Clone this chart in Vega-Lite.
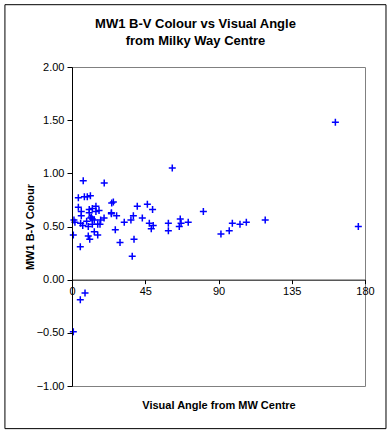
{
  "$schema": "https://vega.github.io/schema/vega-lite/v6.json",
  "width": 293,
  "height": 319,
  "autosize": "none",
  "padding": {"left": 72, "top": 67, "right": 26, "bottom": 48},
  "background": "white",
  "title": {
    "text": ["MW1 B-V Colour vs Visual Angle", "from Milky Way Centre"],
    "font": "Liberation Sans",
    "fontSize": 13,
    "fontWeight": "bold",
    "color": "#000000",
    "lineHeight": 17,
    "anchor": "middle",
    "dx": -23,
    "offset": -44
  },
  "config": {
    "view": {"stroke": "#808080", "strokeWidth": 1},
    "axis": {
      "labelFont": "Liberation Sans",
      "labelFontSize": 11,
      "labelColor": "#000000",
      "titleFont": "Liberation Sans",
      "titleFontSize": 11,
      "titleFontWeight": "bold",
      "titleColor": "#000000",
      "domainColor": "#000000",
      "tickColor": "#000000",
      "grid": false
    }
  },
  "data": {
    "values": [
      {"angle": 0.8, "bv": 0.42},
      {"angle": 1.2, "bv": 0.56},
      {"angle": 1.8, "bv": 0.54},
      {"angle": 3.9, "bv": 0.77},
      {"angle": 3.9, "bv": 0.68},
      {"angle": 5.1, "bv": 0.31},
      {"angle": 5.3, "bv": 0.53},
      {"angle": 5.7, "bv": 0.64},
      {"angle": 5.7, "bv": 0.60},
      {"angle": 6.6, "bv": 0.51},
      {"angle": 6.9, "bv": 0.93},
      {"angle": 7.6, "bv": 0.78},
      {"angle": 9.0, "bv": 0.55},
      {"angle": 9.4, "bv": 0.78},
      {"angle": 10.0, "bv": 0.50},
      {"angle": 10.0, "bv": 0.41},
      {"angle": 10.6, "bv": 0.66},
      {"angle": 10.6, "bv": 0.63},
      {"angle": 10.9, "bv": 0.38},
      {"angle": 11.3, "bv": 0.79},
      {"angle": 11.5, "bv": 0.58},
      {"angle": 11.9, "bv": 0.59},
      {"angle": 12.5, "bv": 0.67},
      {"angle": 12.5, "bv": 0.57},
      {"angle": 12.5, "bv": 0.52},
      {"angle": 13.7, "bv": 0.56},
      {"angle": 13.7, "bv": 0.45},
      {"angle": 14.7, "bv": 0.69},
      {"angle": 14.7, "bv": 0.64},
      {"angle": 15.8, "bv": 0.42},
      {"angle": 15.8, "bv": 0.52},
      {"angle": 16.6, "bv": 0.65},
      {"angle": 17.2, "bv": 0.52},
      {"angle": 17.6, "bv": 0.56},
      {"angle": 19.7, "bv": 0.58},
      {"angle": 19.8, "bv": 0.91},
      {"angle": 24.2, "bv": 0.63},
      {"angle": 24.2, "bv": 0.62},
      {"angle": 24.4, "bv": 0.72},
      {"angle": 25.4, "bv": 0.73},
      {"angle": 26.6, "bv": 0.47},
      {"angle": 27.4, "bv": 0.60},
      {"angle": 29.5, "bv": 0.35},
      {"angle": 32.1, "bv": 0.54},
      {"angle": 36.2, "bv": 0.56},
      {"angle": 37.0, "bv": 0.22},
      {"angle": 37.7, "bv": 0.60},
      {"angle": 38.1, "bv": 0.38},
      {"angle": 40.1, "bv": 0.69},
      {"angle": 43.2, "bv": 0.58},
      {"angle": 46.3, "bv": 0.71},
      {"angle": 47.5, "bv": 0.53},
      {"angle": 48.7, "bv": 0.48},
      {"angle": 49.5, "bv": 0.66},
      {"angle": 49.9, "bv": 0.51},
      {"angle": 59.2, "bv": 0.53},
      {"angle": 59.2, "bv": 0.46},
      {"angle": 61.6, "bv": 1.05},
      {"angle": 65.9, "bv": 0.50},
      {"angle": 66.5, "bv": 0.57},
      {"angle": 67.0, "bv": 0.53},
      {"angle": 71.4, "bv": 0.54},
      {"angle": 80.7, "bv": 0.64},
      {"angle": 91.5, "bv": 0.43},
      {"angle": 96.6, "bv": 0.46},
      {"angle": 98.5, "bv": 0.53},
      {"angle": 103.2, "bv": 0.52},
      {"angle": 107.1, "bv": 0.54},
      {"angle": 118.7, "bv": 0.56},
      {"angle": 161.8, "bv": 1.48},
      {"angle": 175.9, "bv": 0.50},
      {"angle": 8.0, "bv": -0.125},
      {"angle": 5.1, "bv": -0.19},
      {"angle": 0.8, "bv": -0.49}
    ]
  },
  "layer": [
    {
      "mark": {"type": "rect", "fill": null, "stroke": "#000000", "strokeWidth": 1, "clip": false},
      "encoding": {
        "x": {"datum": -41.2, "type": "quantitative"},
        "x2": {"datum": 192.9},
        "y": {"datum": 2.586, "type": "quantitative"},
        "y2": {"datum": -1.401}
      },
      "data": {"values": [{}]}
    },
    {
      "mark": {
        "type": "point",
        "shape": "M-1,0H1M0,-1V1",
        "filled": false,
        "stroke": "#0000FF",
        "strokeWidth": 1.5,
        "size": 49,
        "opacity": 1
      },
      "encoding": {
        "x": {
          "field": "angle",
          "type": "quantitative",
          "scale": {"domain": [0, 180], "nice": false, "zero": false},
          "axis": {
            "values": [0, 45, 90, 135, 180],
            "offset": -106.33,
            "tickSize": 4,
            "labelPadding": 2,
            "labelFlush": false,
            "title": "Visual Angle from MW Centre",
            "titleBaseline": "middle",
            "titleY": 126,
            "zindex": 1
          }
        },
        "y": {
          "field": "bv",
          "type": "quantitative",
          "scale": {"domain": [-1, 2], "nice": false, "zero": false},
          "axis": {
            "values": [-1, -0.5, 0, 0.5, 1, 1.5, 2],
            "format": ".2f",
            "tickSize": 5,
            "labelPadding": 3,
            "title": "MW1 B-V Colour",
            "titlePadding": 1,
            "zindex": 1
          }
        }
      }
    }
  ]
}
